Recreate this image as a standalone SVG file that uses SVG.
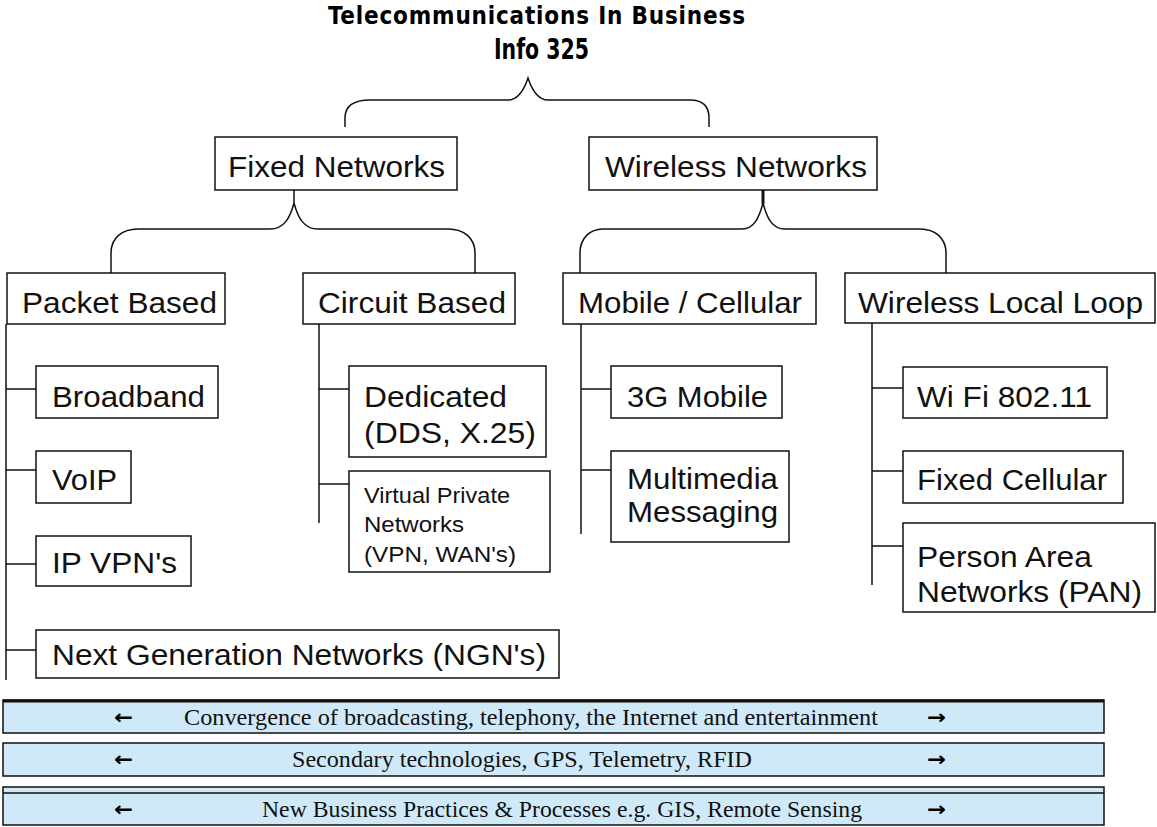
<svg xmlns="http://www.w3.org/2000/svg" width="1157" height="827" viewBox="0 0 1157 827">
<style>
.box{fill:#fff;stroke:#111;stroke-width:1.5}
.t{font-family:"Liberation Sans",Arial,sans-serif;font-size:30px;fill:#111}
.s{font-family:"Liberation Sans",Arial,sans-serif;font-size:22px;fill:#111}
.title{font-family:"Liberation Sans Narrow","DejaVu Sans Condensed","Liberation Sans",Arial,sans-serif;font-weight:bold;fill:#000}
.ln{fill:none;stroke:#111;stroke-width:1.5}
.bar{fill:#cfe9f9;stroke:#111;stroke-width:1.5}
.bt{font-family:"Liberation Serif","Times New Roman",serif;font-size:24px;fill:#111}
.ar{font-family:"DejaVu Sans",sans-serif;font-size:20px;font-weight:bold;fill:#000}
</style>
<rect width="1157" height="827" fill="#fff"/>
<g id="title">
<text class="title" x="328" y="24" font-size="24" textLength="417" lengthAdjust="spacing">Telecommunications In Business</text>
<text class="title" x="494" y="59" font-size="28" textLength="95" lengthAdjust="spacingAndGlyphs">Info 325</text>
</g>
<g id="connectors">
<path class="ln" d="M345,127 L345,118 C345,104 356,100 370,100 L508,100 C518,100 524,90 528,78 C532,90 538,100 548,100 L690,100 C702,100 709,106 709,118 L709,127"/>
<path class="ln" d="M294,190 L294,203 C290,218 284,229 270,229 L138,229 C122,229 111,238 111,253 L111,273 M294,203 C298,218 304,229 318,229 L448,229 C464,229 475,238 475,253 L475,273"/>
<path class="ln" d="M763,203 C759,218 754,229 742,229 L603,229 C590,229 580,238 580,253 L580,273 M763,203 C767,218 772,229 785,229 L920,229 C935,229 946,238 946,253 L946,273"/>
<line x1="763" y1="190" x2="763" y2="204" stroke="#111" stroke-width="3"/>
<path class="ln" d="M6,324 L6,680 M6,389 L36,389 M6,470 L36,470 M6,564 L36,564 M6,650 L36,650"/>
<path class="ln" d="M319,324 L319,523 M319,389 L349,389 M319,484 L349,484"/>
<path class="ln" d="M581,324 L581,534 M581,389 L611,389 M581,470 L611,470"/>
<path class="ln" d="M872,323 L872,585 M872,388 L903,388 M872,471 L903,471 M872,546 L903,546"/>
</g>
<g id="fixed"><rect class="box" x="215" y="137" width="242" height="53"/><text class="t" x="228" y="177" textLength="217" lengthAdjust="spacingAndGlyphs">Fixed Networks</text></g>
<g id="wireless"><rect class="box" x="589" y="137" width="288" height="53"/><text class="t" x="605" y="177" textLength="262" lengthAdjust="spacingAndGlyphs">Wireless Networks</text></g>
<g id="packet"><rect class="box" x="7" y="273" width="218" height="51"/><text class="t" x="22" y="313" textLength="195" lengthAdjust="spacingAndGlyphs">Packet Based</text></g>
<g id="circuit"><rect class="box" x="303" y="273" width="212" height="51"/><text class="t" x="318" y="313" textLength="188" lengthAdjust="spacingAndGlyphs">Circuit Based</text></g>
<g id="mobile"><rect class="box" x="563" y="273" width="253" height="51"/><text class="t" x="578" y="313" textLength="224" lengthAdjust="spacingAndGlyphs">Mobile / Cellular</text></g>
<g id="wll"><rect class="box" x="845" y="273" width="310" height="50"/><text class="t" x="858" y="313" textLength="285" lengthAdjust="spacingAndGlyphs">Wireless Local Loop</text></g>
<g id="broadband"><rect class="box" x="36" y="366" width="182" height="52"/><text class="t" x="52" y="407" textLength="153" lengthAdjust="spacingAndGlyphs">Broadband</text></g>
<g id="voip"><rect class="box" x="36" y="451" width="95" height="52"/><text class="t" x="52" y="490" textLength="65" lengthAdjust="spacingAndGlyphs">VoIP</text></g>
<g id="ipvpn"><rect class="box" x="36" y="536" width="155" height="50"/><text class="t" x="52" y="573" textLength="125" lengthAdjust="spacingAndGlyphs">IP VPN's</text></g>
<g id="ngn"><rect class="box" x="36" y="630" width="523" height="48"/><text class="t" x="52" y="665" textLength="494" lengthAdjust="spacingAndGlyphs">Next Generation Networks (NGN's)</text></g>
<g id="dedicated"><rect class="box" x="349" y="366" width="197" height="91"/><text class="t" x="364" y="407" textLength="143" lengthAdjust="spacingAndGlyphs">Dedicated</text><text class="t" x="364" y="443" textLength="172" lengthAdjust="spacingAndGlyphs">(DDS, X.25)</text></g>
<g id="vpn"><rect class="box" x="349" y="471" width="201" height="101"/><text class="s" x="364" y="503" textLength="146" lengthAdjust="spacingAndGlyphs">Virtual Private</text><text class="s" x="364" y="532" textLength="100" lengthAdjust="spacingAndGlyphs">Networks</text><text class="s" x="364" y="562" textLength="152" lengthAdjust="spacingAndGlyphs">(VPN, WAN's)</text></g>
<g id="g3"><rect class="box" x="611" y="366" width="171" height="52"/><text class="t" x="627" y="407" textLength="141" lengthAdjust="spacingAndGlyphs">3G Mobile</text></g>
<g id="mms"><rect class="box" x="611" y="451" width="178" height="91"/><text class="t" x="627" y="489" textLength="151" lengthAdjust="spacingAndGlyphs">Multimedia</text><text class="t" x="627" y="522" textLength="151" lengthAdjust="spacingAndGlyphs">Messaging</text></g>
<g id="wifi"><rect class="box" x="903" y="367" width="204" height="51"/><text class="t" x="917" y="407" textLength="175" lengthAdjust="spacingAndGlyphs">Wi Fi 802.11</text></g>
<g id="fixedcell"><rect class="box" x="903" y="451" width="220" height="52"/><text class="t" x="917" y="490" textLength="190" lengthAdjust="spacingAndGlyphs">Fixed Cellular</text></g>
<g id="pan"><rect class="box" x="903" y="523" width="252" height="89"/><text class="t" x="917" y="567" textLength="175" lengthAdjust="spacingAndGlyphs">Person Area</text><text class="t" x="917" y="602" textLength="225" lengthAdjust="spacingAndGlyphs">Networks (PAN)</text></g>
<g id="bar1"><rect class="bar" x="3" y="700" width="1101" height="33"/><line x1="3" y1="701" x2="1104" y2="701" stroke="#111" stroke-width="3"/><text class="ar" x="114" y="724" textLength="19" lengthAdjust="spacingAndGlyphs">←</text><text class="bt" x="184" y="725" textLength="694" lengthAdjust="spacingAndGlyphs">Convergence of broadcasting, telephony, the Internet and entertainment</text><text class="ar" x="927" y="724" textLength="19" lengthAdjust="spacingAndGlyphs">→</text></g>
<g id="bar2"><rect class="bar" x="3" y="743" width="1101" height="33"/><text class="ar" x="114" y="766" textLength="19" lengthAdjust="spacingAndGlyphs">←</text><text class="bt" x="292" y="767" textLength="460" lengthAdjust="spacingAndGlyphs">Secondary technologies, GPS, Telemetry, RFID</text><text class="ar" x="927" y="766" textLength="19" lengthAdjust="spacingAndGlyphs">→</text></g>
<g id="bar3"><rect class="bar" x="3" y="787" width="1101" height="38"/><line x1="3" y1="793" x2="1104" y2="793" stroke="#111" stroke-width="1.5"/><text class="ar" x="114" y="816" textLength="19" lengthAdjust="spacingAndGlyphs">←</text><text class="bt" x="262" y="817" textLength="600" lengthAdjust="spacingAndGlyphs">New Business Practices &amp; Processes e.g. GIS, Remote Sensing</text><text class="ar" x="927" y="816" textLength="19" lengthAdjust="spacingAndGlyphs">→</text></g>
</svg>
